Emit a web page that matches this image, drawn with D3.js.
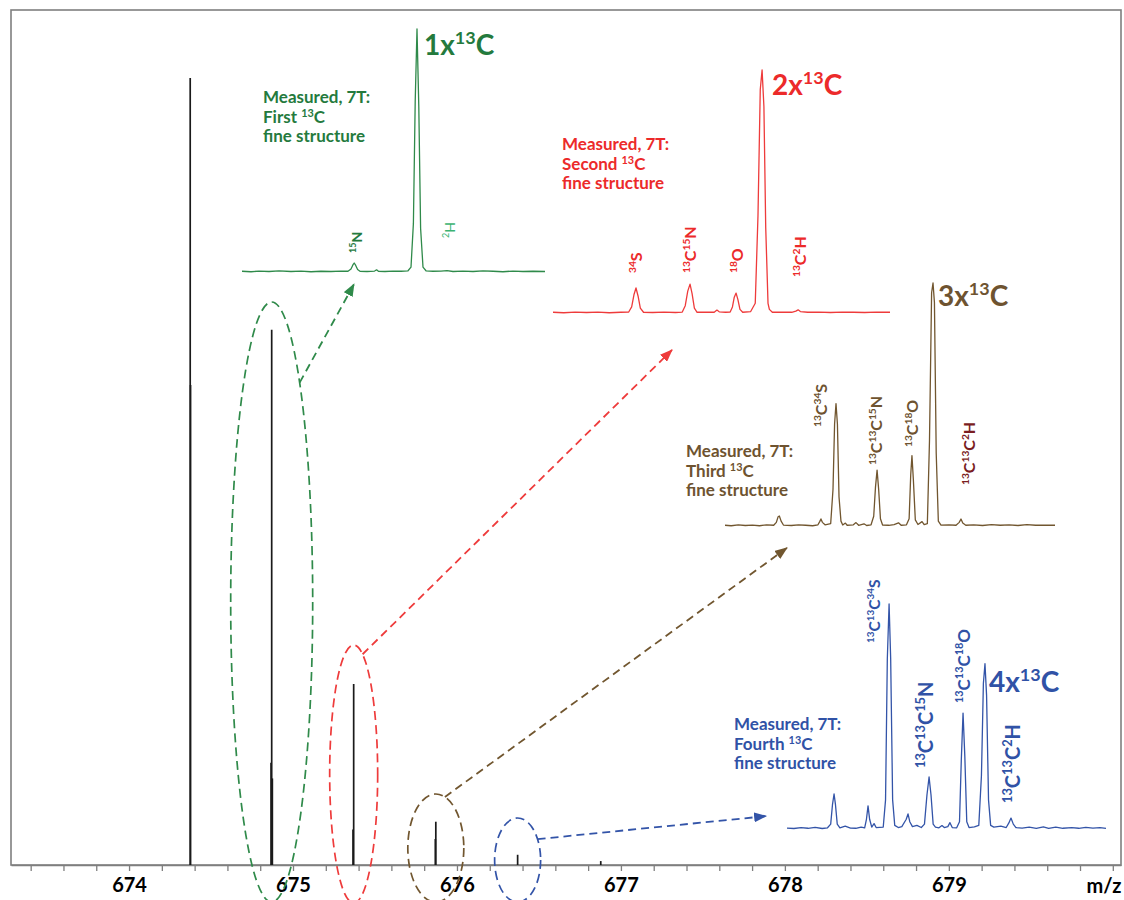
<!DOCTYPE html>
<html>
<head>
<meta charset="utf-8">
<script src="https://cdn.jsdelivr.net/npm/d3@7"></script>
<style>
    body { margin: 0; background: #fff; }
    text { font-family: Lato, "Open Sans", sans-serif; font-weight: bold; }
</style>
</head>
<body>
<div id="chart"></div>
<script>
    // Main (broadband) spectrum sticks: m/z and relative intensity
    var mainMz  = [674.373, 674.375, 674.866, 674.870, 674.874, 675.366, 675.370, 675.868, 675.871, 676.370, 676.877];
    var mainInt = [100, 61, 13, 68, 11, 4.5, 23, 3.3, 5.5, 1.3, 0.5];

    // axis labels
    var tickLabels = [674, 675, 676, 677, 678, 679];
    var axisTitle = "m/z";

    // zoomed fine structures: [offset from nominal peak (mTh), relative intensity]
    var trace1 = [[-8.75,0.3],[-8.3,0.1],[-7.9,0.4],[-7.4,0.2],[-6.9,0.5],[-6.3,0.2],[-5.8,0.4],[-5.3,0.1],[-4.8,0.3],[-4.3,0.2],[-3.8,0.4],
        [-3.45,0.3],[-3.3,1.2],[-3.2,3.0],[-3.14,3.7],[-3.07,2.8],[-2.97,1.0],[-2.85,0.3],[-2.5,0.2],[-2.12,0.4],[-2.02,0.9],[-1.93,0.3],
        [-1.6,0.2],[-1.2,0.4],[-0.8,0.3],[-0.45,0.5],[-0.3,2],[-0.18,20],[-0.09,70],[0,100],[0.09,68],[0.18,18],[0.3,2],[0.45,0.5],
        [0.8,0.3],[1.2,0.4],[1.5,0.6],[1.8,0.2],[2.3,0.4],[2.8,0.2],[3.3,0.5],[3.8,0.3],[4.3,0.1],[4.8,0.4],[5.3,0.2],[5.8,0.3],[6.4,0.2]];

    var trace2 = [[-9.17,0.3],[-8.7,0.1],[-8.2,0.4],[-7.7,0.2],[-7.2,0.4],[-6.7,0.1],[-6.2,0.3],[-5.85,0.4],[-5.72,2.5],[-5.62,7.5],
        [-5.53,10.3],[-5.44,7],[-5.34,2],[-5.2,0.3],[-4.8,0.2],[-4.3,0.4],[-3.8,0.2],[-3.5,0.4],[-3.37,3],[-3.26,9],[-3.16,11.9],[-3.07,8],
        [-2.97,2],[-2.85,0.3],[-2.4,0.4],[-2.1,0.3],[-1.98,1.2],[-1.88,0.5],[-1.6,0.3],[-1.4,0.4],[-1.3,2.5],[-1.22,6.5],[-1.14,8.2],
        [-1.06,5.5],[-0.97,1.5],[-0.85,0.3],[-0.5,0.6],[-0.3,4],[-0.18,40],[-0.08,92],[0,100],[0.08,85],[0.16,35],[0.26,4],[0.32,1.5],
        [0.45,0.3],[0.9,0.4],[1.3,0.3],[1.48,0.8],[1.58,1.3],[1.68,0.6],[2.0,0.3],[2.5,0.4],[3.0,0.2],[3.5,0.4],[4.0,0.3],[4.5,0.2],
        [5.0,0.4],[5.61,0.3]];

    var trace3 = [[-11.75,0.3],[-11.4,0.1],[-11.0,0.5],[-10.6,0.2],[-10.2,0.4],[-9.8,0.1],[-9.4,0.5],[-9.0,0.3],[-8.85,1.5],[-8.75,3.8],
        [-8.68,4.1],[-8.58,2],[-8.45,0.4],[-8.0,0.2],[-7.6,0.5],[-7.2,0.3],[-6.8,0.1],[-6.5,0.5],[-6.4,1.8],[-6.33,2.9],[-6.25,1.5],
        [-6.1,0.5],[-5.78,1],[-5.65,15],[-5.56,42],[-5.48,50.4],[-5.40,42],[-5.31,12],[-5.2,2],[-5.1,0.4],[-4.95,1.2],[-4.85,0.3],
        [-4.5,0.5],[-4.35,1.4],[-4.2,0.3],[-3.9,0.9],[-3.75,0.2],[-3.5,0.5],[-3.35,4],[-3.25,16],[-3.16,23],[-3.07,15],[-2.97,3],
        [-2.85,0.4],[-2.5,0.3],[-2.2,0.6],[-1.95,1.3],[-1.8,0.3],[-1.5,0.5],[-1.35,3],[-1.26,21],[-1.19,29],[-1.11,19],[-1.0,2.5],
        [-0.85,0.6],[-0.62,1.8],[-0.5,0.6],[-0.32,1],[-0.2,35],[-0.08,96],[0,100],[0.08,92],[0.18,30],[0.3,2],[0.45,0.4],[0.9,0.5],
        [1.3,0.3],[1.48,1.5],[1.58,2.9],[1.68,1.2],[1.85,0.3],[2.3,0.5],[2.8,0.2],[3.3,0.6],[3.8,0.3],[4.3,0.5],[4.8,0.2],[5.3,0.6],
        [5.8,0.3],[6.3,0.4],[6.89,0.3]];

    var trace4 = [[-11.19,0.4],[-10.8,0.2],[-10.4,0.6],[-10.0,0.3],[-9.6,0.7],[-9.2,0.2],[-8.9,0.5],[-8.72,2],[-8.62,10],[-8.53,14.4],
        [-8.45,10],[-8.35,2],[-8.2,0.5],[-7.9,1.2],[-7.6,0.4],[-7.3,0.3],[-7.0,0.8],[-6.8,0.5],[-6.7,4],[-6.61,9.5],[-6.52,4],[-6.4,0.8],
        [-6.27,2.2],[-6.15,0.6],[-5.75,0.8],[-5.62,12],[-5.52,70],[-5.42,92.6],[-5.33,70],[-5.22,12],[-5.1,1.5],[-4.9,0.6],[-4.7,1],
        [-4.45,4],[-4.35,6.2],[-4.25,3],[-4.1,1],[-3.85,1.5],[-3.6,0.6],[-3.42,2],[-3.28,14],[-3.16,21.4],[-3.05,14],[-2.93,2],[-2.8,0.8],
        [-2.6,0.5],[-2.43,1.4],[-2.3,0.6],[-2.1,1],[-1.98,2.6],[-1.85,0.6],[-1.6,0.5],[-1.44,3],[-1.34,28],[-1.24,47.7],[-1.14,30],
        [-1.03,3],[-0.9,0.6],[-0.6,0.9],[-0.35,1.5],[-0.2,22],[-0.09,60],[0,68],[0.09,55],[0.2,12],[0.32,1.5],[0.5,0.8],[0.9,1.2],
        [1.2,0.6],[1.35,2.5],[1.47,4.5],[1.6,2],[1.75,0.6],[2.1,0.4],[2.5,0.8],[2.9,0.3],[3.3,0.9],[3.6,0.3],[4.0,0.8],[4.4,0.3],
        [4.9,0.6],[5.3,0.3],[5.7,0.7],[6.1,0.4],[6.5,0.6],[6.84,0.3]];

    // texts for each zoom
    var titles = ["1x^{13}C", "2x^{13}C", "3x^{13}C", "4x^{13}C"];
    var ordinals = ["First", "Second", "Third", "Fourth"];
    var peakLabels = [
        ["^{15}N", "^{2}H"],
        ["^{34}S", "^{13}C^{15}N", "^{18}O", "^{13}C^{2}H"],
        ["^{13}C^{34}S", "^{13}C^{13}C^{15}N", "^{13}C^{18}O", "^{13}C^{13}C^{2}H"],
        ["^{13}C^{13}C^{34}S", "^{13}C^{13}C^{15}N", "^{13}C^{13}C^{18}O", "^{13}C^{13}C^{2}H"]
    ];
    // which main peak each zoom belongs to (index into mainMz)
    var sourcePeak = [3, 6, 8, 9];

    // ---- layout (pixels) ----
    var svgWidth = 1124, svgHeight = 900;
    var frame = { left: 11, right: 1121, top: 10, bottom: 865 };

    var insets = [
        { range: [242, 545], domain: [-8.75, 6.4], base: 272, line: "#2f8a4a", text: "#247a3d",
          title: [424, 55], note: [263, 103],
          labels: [[362, 253, 14, null], [455, 238, 14, "#3cb371"]],
          ellipse: { rx: 41, ry: 300, cy: 602 }, arrow: { from: 0.82, to: [-3.15, -5] } },
        { range: [553, 890], domain: [-9.17, 5.61], base: 313, line: "#ee3b3b", text: "#ec2a2a",
          title: [772, 95], note: [562, 150],
          labels: [[642, 273, 16], [696, 273, 16], [743, 273, 16], [806, 277, 16]],
          ellipse: { rx: 24, ry: 129, cy: 774 }, arrow: { from: 1.19, to: [-3.95, -15.2] } },
        { range: [725, 1055], domain: [-11.75, 6.89], base: 526, line: "#71562f", text: "#6e5330",
          title: [938, 306], note: [686, 457],
          labels: [[827, 427, 16], [882, 465, 16], [918, 447, 16], [975, 485, 16, "#7a1d22"]],
          ellipse: { rx: 28, ry: 54, cy: 848 }, arrow: { from: 1.24, to: [-8.25, -9] } },
        { range: [787, 1106], domain: [-11.19, 6.84], base: 829, line: "#3354a8", text: "#3052a6",
          title: [989, 692], note: [734, 730],
          labels: [[880, 643, 15.5], [933, 768, 20], [970, 703, 17], [1020, 803, 20]],
          ellipse: { rx: 23, ry: 42, cy: 860 }, arrow: { from: 0.52, to: [-12.37, 5.3] } }
    ];
    var traces = [trace1, trace2, trace3, trace4];
    var insetHeight = 243;

    var svg = d3.select("#chart")
        .append("svg")
        .attr("width", svgWidth)
        .attr("height", svgHeight);

    // rich text with ^{..} superscripts
    function richText(sel, str, size, lift) {
        lift = lift || 0.4;
        var parts = str.split(/(\^\{[^}]*\})/).filter(function(s) { return s.length; });
        var raised = false;
        parts.forEach(function(p) {
            var sup = p[0] === "^";
            var shift = 0;
            if (sup && !raised) shift = -size * lift;
            if (!sup && raised) shift = size * lift;
            sel.append("tspan")
                .attr("font-size", sup ? size * 0.64 : size)
                .attr("dy", shift)
                .text(sup ? p.slice(2, -1) : p);
            raised = sup;
        });
    }

    // ---- main spectrum ----
    var x = d3.scaleLinear().domain([673.28, 680.05]).range([frame.left, frame.right]);
    var y = d3.scaleLinear().domain([0, 100]).range([frame.bottom, 78]);

    svg.append("rect")
        .attr("x", frame.left).attr("y", frame.top)
        .attr("width", frame.right - frame.left).attr("height", frame.bottom - frame.top)
        .attr("fill", "none").attr("stroke", "#7f7f7f").attr("stroke-width", 1.6);

    var minorTicks = d3.range(0, 34).map(function(i) { return +(673.4 + i * 0.2).toFixed(1); });
    var bottomAxis = d3.axisBottom(x)
        .tickValues(minorTicks)
        .tickSize(6)
        .tickSizeOuter(0)
        .tickFormat(function(d) { return tickLabels.indexOf(d) >= 0 ? d : ""; });

    var xaxis = svg.append("g")
        .attr("transform", `translate(0, ${frame.bottom})`)
        .call(bottomAxis);
    xaxis.select(".domain").attr("stroke", "#7f7f7f").attr("stroke-width", 1.6);
    xaxis.selectAll(".tick line").attr("stroke", "#7f7f7f").attr("stroke-width", 1.3);
    xaxis.selectAll(".tick text")
        .attr("y", 13)
        .attr("fill", "#000")
        .style("font-size", "20px")
        .style("font-family", "Lato, sans-serif")
        .style("font-weight", "bold");

    svg.append("text")
        .attr("x", 1104).attr("y", 893)
        .attr("text-anchor", "middle")
        .style("font-size", "20px")
        .text(axisTitle);

    svg.append("g").selectAll("line")
        .data(mainMz)
        .enter()
        .append("line")
        .attr("x1", d => x(d)).attr("x2", d => x(d))
        .attr("y1", y(0))
        .attr("y2", (d, i) => y(mainInt[i]))
        .attr("stroke", "#1a1a1a")
        .attr("stroke-width", 1.7);

    // ---- ellipses, arrows, zoomed insets ----
    var defs = svg.append("defs");

    insets.forEach(function(ins, k) {
        var xs = d3.scaleLinear().domain(ins.domain).range(ins.range);
        var ys = d3.scaleLinear().domain([0, 100]).range([ins.base, ins.base - insetHeight]);

        // marker
        defs.append("marker")
            .attr("id", "head" + k)
            .attr("markerUnits", "userSpaceOnUse")
            .attr("markerWidth", 13).attr("markerHeight", 10)
            .attr("refX", 12).attr("refY", 5)
            .attr("orient", "auto")
            .append("path")
            .attr("d", "M0,0 L13,5 L0,10 Z")
            .attr("fill", ins.line);

        // ellipse around the main peak
        var cx = x(mainMz[sourcePeak[k]]);
        var e = ins.ellipse;
        svg.append("ellipse")
            .attr("cx", cx).attr("cy", e.cy)
            .attr("rx", e.rx).attr("ry", e.ry)
            .attr("fill", "none")
            .attr("stroke", ins.line)
            .attr("stroke-width", 1.7)
            .attr("stroke-dasharray", "9,5");

        // arrow from ellipse to zoom
        var a = ins.arrow.from;
        svg.append("line")
            .attr("x1", cx + e.rx * Math.cos(a))
            .attr("y1", e.cy - e.ry * Math.sin(a))
            .attr("x2", xs(ins.arrow.to[0]))
            .attr("y2", ys(ins.arrow.to[1]))
            .attr("stroke", ins.line)
            .attr("stroke-width", 1.8)
            .attr("stroke-dasharray", "8,5")
            .attr("marker-end", "url(#head" + k + ")");

        // zoom trace
        var line = d3.line()
            .x(d => xs(d[0]))
            .y(d => ys(d[1]));
        svg.append("path")
            .datum(traces[k])
            .attr("d", line)
            .attr("fill", "none")
            .attr("stroke", ins.line)
            .attr("stroke-width", 1.3)
            .attr("stroke-linejoin", "round");

        // big title
        var t = svg.append("text")
            .attr("x", ins.title[0]).attr("y", ins.title[1])
            .attr("fill", ins.text);
        richText(t, titles[k], 28);

        // note
        var noteLines = ["Measured, 7T:", ordinals[k] + " ^{13}C", "fine structure"];
        noteLines.forEach(function(s, j) {
            var n = svg.append("text")
                .attr("x", ins.note[0]).attr("y", ins.note[1] + j * 19.5)
                .attr("fill", ins.text);
            richText(n, s, 17, 0.3);
        });

        // rotated peak labels
        peakLabels[k].forEach(function(s, j) {
            var L = ins.labels[j];
            var pl = svg.append("text")
                .attr("transform", `translate(${L[0]}, ${L[1]}) rotate(-90)`)
                .attr("fill", L[3] || ins.text);
            if (L[3] && k === 0) pl.style("font-weight", "normal");
            richText(pl, s, L[2]);
        });
    });
</script>
</body>
</html>
